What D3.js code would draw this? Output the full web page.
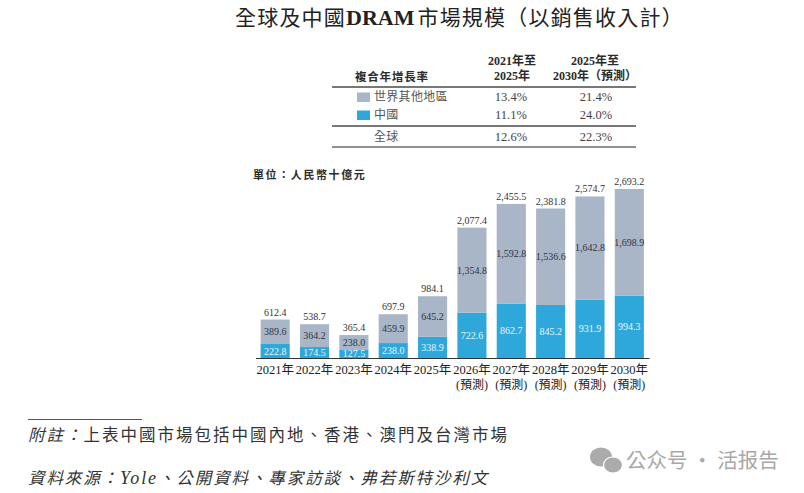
<!DOCTYPE html>
<html>
<head>
<meta charset="utf-8">
<script src="https://cdn.jsdelivr.net/npm/d3@7/dist/d3.min.js"></script>
<style>
  html, body { margin: 0; padding: 0; background: #fff; }
  svg { display: block; }
  .cjk { font-family: "Noto Sans CJK TC", "Noto Sans", sans-serif; }
  .num { font-family: "Liberation Serif", "Noto Sans CJK TC", serif; }
</style>
</head>
<body>
<svg id="chart" width="804" height="493"></svg>
<script>
// DRAM market size, RMB billions
const years = ["2021年", "2022年", "2023年", "2024年", "2025年", "2026年", "2027年", "2028年", "2029年", "2030年"];
const forecastFlags = [false, false, false, false, false, true, true, true, true, true];
const china = [222.8, 174.5, 127.5, 238.0, 338.9, 722.6, 862.7, 845.2, 931.9, 994.3];
const restOfWorld = [389.6, 364.2, 238.0, 459.9, 645.2, 1354.8, 1592.8, 1536.6, 1642.8, 1698.9];
const totals = [612.4, 538.7, 365.4, 697.9, 984.1, 2077.4, 2455.5, 2381.8, 2574.7, 2693.2];

// CAGR table contents
const cagrHeadA = ["2021年至", "2025年"];
const cagrHeadB = ["2025年至", "2030年（預測）"];
const cagrRows = ["世界其他地區", "中國", "全球"];
const cagrEarly = ["13.4%", "11.1%", "12.6%"];
const cagrLate = ["21.4%", "24.0%", "22.3%"];

const GREY = "#a9b6c8", BLUE = "#2ea7db", INK = "#2b2b2b";
const svg = d3.select("#chart");
const fmt = d3.format(",.1f");

// Title: CJK sans with a bold serif "DRAM"
const title = svg.append("text").attr("x", 235).attr("y", 25)
  .attr("class", "cjk").attr("fill", "#222").attr("font-size", 21);
title.append("tspan").attr("letter-spacing", 1.2).text("全球及中國");
title.append("tspan").attr("class", "num").attr("font-weight", 700).attr("font-size", 22).text("DRAM");
title.append("tspan").attr("dx", 3).attr("letter-spacing", 1.2).text("市場規模");
title.append("tspan").attr("letter-spacing", 1.2).text("（以銷售收入計）");

// CAGR table
const colA = 512, colB = 595;
svg.append("text").attr("class", "cjk").attr("x", 355).attr("y", 81)
  .attr("font-size", 11.5).attr("font-weight", 700).attr("letter-spacing", 0.8).attr("fill", INK).text("複合年增長率");

[[cagrHeadA, colA], [cagrHeadB, colB]].forEach(([lines, cx]) => {
  lines.forEach((line, i) => {
    svg.append("text").attr("class", "num").attr("x", cx).attr("y", 65 + i * 15)
      .attr("text-anchor", "middle").attr("font-size", 12).attr("font-weight", 700)
      .attr("fill", INK).text(line);
  });
});

[[87, 2, "#777"], [126, 2, "#777"], [147, 1, "#222"]].forEach(([y, w, c]) => {
  svg.append("line").attr("x1", 332).attr("x2", 636).attr("y1", y).attr("y2", y)
    .attr("stroke", c).attr("stroke-width", w);
});

const rowY = [97, 115, 137];
[GREY, BLUE].forEach((c, i) => {
  svg.append("rect").attr("x", 357).attr("y", rowY[i] - 4.5).attr("width", 13).attr("height", 9.5).attr("fill", c);
});
cagrRows.forEach((name, i) => {
  svg.append("text").attr("class", "cjk").attr("x", 374).attr("y", rowY[i] + 4)
    .attr("font-size", 12).attr("letter-spacing", 0.3).attr("fill", "#555").text(name);
  [[cagrEarly, colA - 1], [cagrLate, colB + 1]].forEach(([vals, cx]) => {
    svg.append("text").attr("class", "num").attr("x", cx).attr("y", rowY[i] + 4)
      .attr("text-anchor", "middle").attr("font-size", 12.5).attr("fill", "#444").text(vals[i]);
  });
});

// Unit caption
svg.append("text").attr("class", "cjk").attr("x", 253).attr("y", 179)
  .attr("font-size", 11).attr("font-weight", 700).attr("letter-spacing", 1.6).attr("fill", INK).text("單位：人民幣十億元");

// Stacked bars
const x = d3.scaleBand().domain(years).range([255.5, 649]).paddingInner(0.26).paddingOuter(0.13);
const y = d3.scaleLinear().domain([0, 2693.2]).range([358, 189]);

const rows = years.map((year, i) => ({
  year, china: china[i], rest: restOfWorld[i], total: totals[i], forecast: forecastFlags[i]
}));
const stacked = d3.stack().keys(["china", "rest"])(rows);
const fills = { china: BLUE, rest: GREY };
const labelFill = { china: "#e8f7ff", rest: "#2f3440" };

stacked.forEach(layer => {
  const g = svg.append("g");
  g.selectAll("rect").data(layer).join("rect")
    .attr("x", d => x(d.data.year))
    .attr("y", d => y(d[1]))
    .attr("width", x.bandwidth())
    .attr("height", d => y(d[0]) - y(d[1]))
    .attr("fill", fills[layer.key]);
  g.selectAll("text").data(layer).join("text")
    .attr("class", "num")
    .attr("x", d => x(d.data.year) + x.bandwidth() / 2)
    .attr("y", d => (y(d[0]) + y(d[1])) / 2 + 3.5)
    .attr("text-anchor", "middle").attr("font-size", 10)
    .attr("fill", labelFill[layer.key])
    .text(d => fmt(d[1] - d[0]));
});

svg.append("g").selectAll("text").data(rows).join("text")
  .attr("class", "num")
  .attr("x", d => x(d.year) + x.bandwidth() / 2)
  .attr("y", d => y(d.total) - 4)
  .attr("text-anchor", "middle").attr("font-size", 10).attr("fill", "#333")
  .text(d => fmt(d.total));

// Category axis
const axis = svg.append("g").attr("transform", `translate(0,${y(0)})`)
  .call(d3.axisBottom(x).tickSize(0).tickPadding(7));
axis.select(".domain").attr("stroke", "#333").attr("stroke-width", 1);
axis.selectAll("text").attr("class", "num").attr("font-size", 12.5).attr("fill", "#222")
  .attr("font-family", '"Liberation Serif", "Noto Sans CJK TC", serif');

svg.append("g").selectAll("text").data(rows.filter(d => d.forecast)).join("text")
  .attr("class", "num")
  .attr("x", d => x(d.year) + x.bandwidth() / 2)
  .attr("y", 388.5)
  .attr("text-anchor", "middle").attr("font-size", 12).attr("fill", "#222")
  .text("(預測)");

// Footnotes
svg.append("line").attr("x1", 28).attr("x2", 142).attr("y1", 419.5).attr("y2", 419.5)
  .attr("stroke", "#555").attr("stroke-width", 1);

const note = svg.append("text").attr("class", "cjk").attr("x", 28).attr("y", 441)
  .attr("font-size", 16.5).attr("letter-spacing", 2).attr("fill", "#333");
note.append("tspan").attr("font-style", "italic").text("附註：");
note.append("tspan").text("上表中國市場包括中國內地、香港、澳門及台灣市場");

const source = svg.append("text").attr("class", "cjk").attr("x", 28).attr("y", 484)
  .attr("font-size", 16.5).attr("letter-spacing", 1.9).attr("font-style", "italic").attr("fill", "#333");
source.append("tspan").text("資料來源：");
source.append("tspan").attr("class", "num").attr("font-size", 18).text("Yole");
source.append("tspan").text("、公開資料、專家訪談、弗若斯特沙利文");

// Account badge in the lower corner
const badge = svg.append("g").attr("fill", "#ababab");
badge.append("ellipse").attr("cx", 601).attr("cy", 457).attr("rx", 11).attr("ry", 9.5);
badge.append("ellipse").attr("cx", 613).attr("cy", 465).attr("rx", 9.5).attr("ry", 8)
  .attr("stroke", "#fff").attr("stroke-width", 1.2);
svg.append("text").attr("class", "cjk").attr("x", 626).attr("y", 468)
  .attr("font-size", 20.5).attr("fill", "#a8a8a8").text("公众号 · 活报告");
</script>
</body>
</html>
